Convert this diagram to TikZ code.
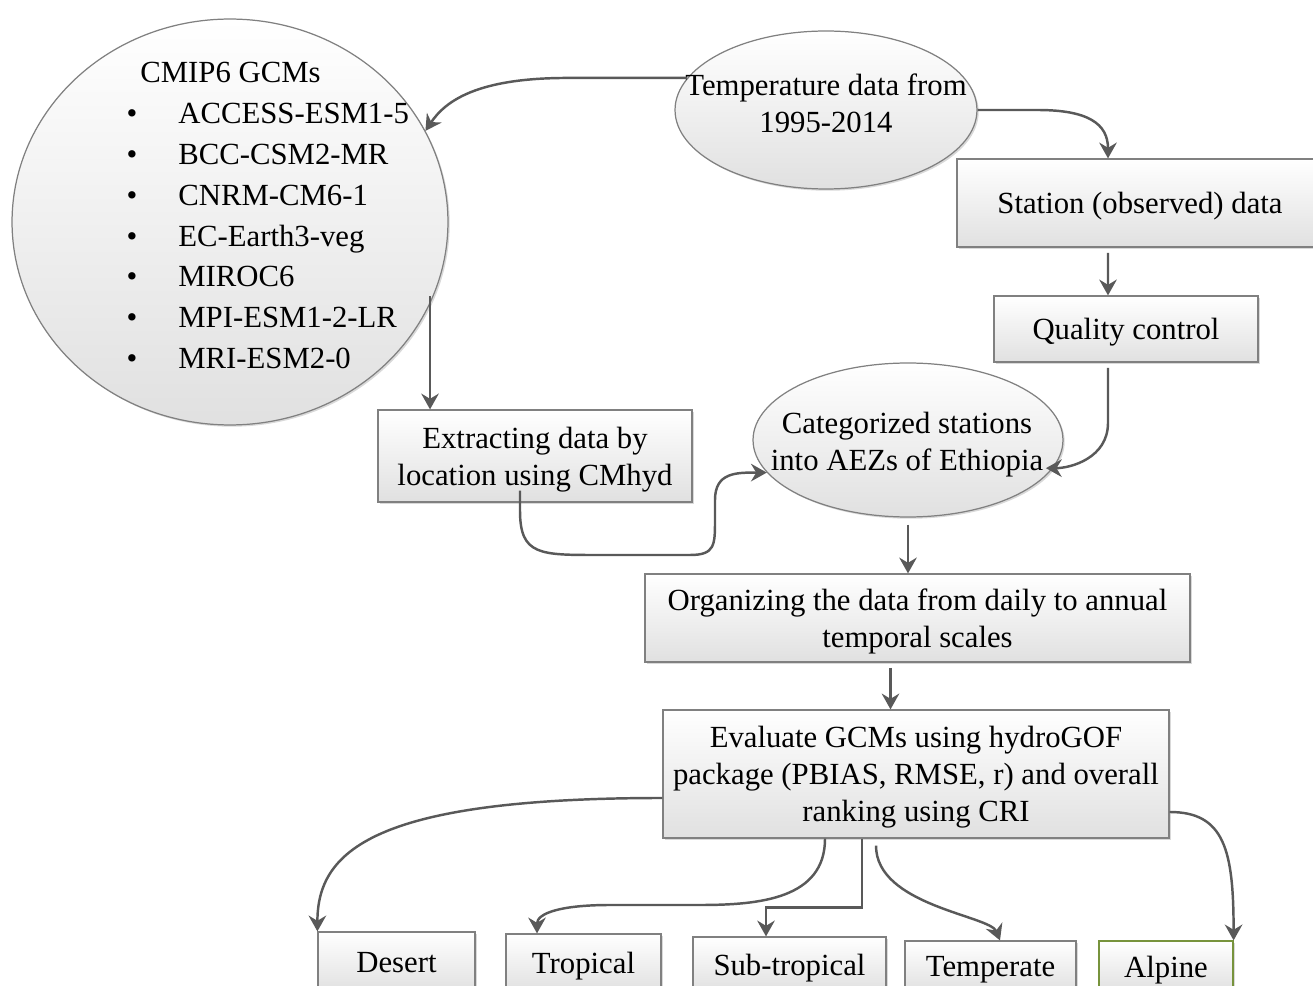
\documentclass[tikz,border=0pt]{standalone}
\usepackage{fontspec}
\setmainfont{Liberation Serif}
\usepackage{xcolor}
\usetikzlibrary{arrows.meta,shapes.geometric,shadows}
\definecolor{alpinegreen}{RGB}{119,147,60}

\begin{document}
\begin{tikzpicture}[x=0.02cm,y=-0.02cm]
	\useasboundingbox (0,0) rectangle (1313,986);
	\clip (0,0) rectangle (1313,986);
	\tikzstyle{every node}=[font=\fontsize{17.5}{21}\selectfont,align=center,inner sep=0pt]
	\tikzstyle{grad}=[draw=black!50,line width=0.7pt,top color=white,bottom color=black!12,drop shadow={shadow xshift=1pt,shadow yshift=-1pt,opacity=0.3}]
	\tikzstyle{box}=[grad,rectangle,text depth=0pt]
	\tikzstyle{oval}=[grad,ellipse]
	\tikzstyle{arr}=[draw=black!65,line width=1.4pt,-{Stealth[length=9pt,width=10pt,inset=3pt]}]
	% models
	\node[oval,minimum width=8.72cm,minimum height=8.12cm] (gcm) at (230,222) {};
	\node[anchor=base west] (gcmtitle) at (140,83) {CMIP6 GCMs};
	\foreach \model [count=\i] in {ACCESS-ESM1-5,BCC-CSM2-MR,CNRM-CM6-1,EC-Earth3-veg,MIROC6,MPI-ESM1-2-LR,MRI-ESM2-0}
	{
		\node[anchor=base] (bul\i) at (132,83+40.8*\i) {\textbullet};
		\node[anchor=base west] (mod\i) at (178,83+40.8*\i) {\model};
	}
	% observations
	\node[oval,minimum width=6.04cm,minimum height=3.16cm] (temp) at (826,110) {};
	\node (templbl) at (826,103) {Temperature data from\\1995-2014};
	\node[box,minimum width=7.32cm,minimum height=1.76cm] (station) at (1140,203) {Station (observed) data};
	\node[box,minimum width=5.28cm,minimum height=1.32cm] (quality) at (1126,329) {Quality control};
	\node[oval,minimum width=6.2cm,minimum height=3.08cm] (cat) at (908,440) {};
	\node (catlbl) at (907,445) {Categorized stations\\into AEZs of Ethiopia};
	\node[box,minimum width=6.28cm,minimum height=1.84cm] (extract) at (535,456) {Extracting data by\\location using CMhyd};
	\node[box,minimum width=10.9cm,minimum height=1.76cm] (org) at (917.5,618) {Organizing the data from daily to annual\\temporal scales};
	\node[box,minimum width=10.12cm,minimum height=2.56cm] (eval) at (916,774) {Evaluate GCMs using hydroGOF\\package (PBIAS, RMSE, r) and overall\\ranking using CRI};
	% zones
	\node[box,minimum width=3.14cm,minimum height=1.2cm] (desert) at (396.5,962) {Desert};
	\node[box,minimum width=3.1cm,minimum height=1.16cm] (tropical) at (583.5,963) {Tropical};
	\node[box,minimum width=3.86cm,minimum height=1.1cm] (subtrop) at (789.5,964.5) {Sub-tropical};
	\node[box,minimum width=3.42cm,minimum height=1.02cm] (temperate) at (990.5,966.5) {Temperate};
	\node[box,draw=alpinegreen,minimum width=2.68cm,minimum height=1.02cm] (alpine) at (1166,966.5) {Alpine};
	% arrows
	\draw[arr] (temp.167) -- ++(-120,0) .. controls +(-90,0) and +(20,-30) .. (gcm.25);
	\draw[arr] (temp.east) -- ++(60,0) .. controls +(50,0) and +(0,-35) .. ([xshift=-0.64cm]station.north);
	\draw[arr] ([xshift=-0.64cm,yshift=-3pt]station.south) -- ([xshift=-0.36cm]quality.north);
	\draw[arr] ([xshift=-0.36cm,yshift=-3pt]quality.south) -- ++(0,55) .. controls +(0,35) and +(25,0) .. ([xshift=-4pt]cat.-11);
	\coordinate (extin) at ([xshift=-2.1cm]extract.north);
	\draw[arr] (extin |- gcm.-20) -- (extin);
	\draw[arr] ([xshift=-0.3cm,yshift=0.24cm]extract.south) -- ++(0,20) .. controls +(0,45) and +(-60,0) .. (600,555) -- (690,555) .. controls +(25,0) and +(0,25) .. (715,520) -- (715,500) .. controls +(0,-28) and +(-30,0) .. (cat.193);
	\draw[arr] ([yshift=-4pt]cat.south) -- (cat.south |- org.north);
	\coordinate (orgout) at ([xshift=-0.54cm,yshift=-3pt]org.south);
	\draw[arr] (orgout) -- (orgout |- eval.north);
	\draw[arr] ([yshift=-0.48cm]eval.west) .. controls +(-290,0) and +(0,-80) .. (desert.north west);
	\draw[arr] ([xshift=-1.82cm]eval.south) .. controls +(0,60) and +(60,0) .. (700,905) -- (610,905) .. controls +(-50,0) and +(0,-20) .. ([xshift=-0.93cm]tropical.north);
	\draw[arr] ([xshift=-1.08cm]eval.south) -- ++(0,69) -| ([xshift=-0.47cm]subtrop.north);
	\draw[arr] ([xshift=-0.8cm,yshift=-4pt]eval.south) .. controls +(0,60) and +(-10,-25) .. ([xshift=0.19cm]temperate.north);
	\draw[arr] ([yshift=-0.76cm]eval.east) .. controls +(55,0) and +(0,-90) .. (alpine.north east);
\end{tikzpicture}
\end{document}
